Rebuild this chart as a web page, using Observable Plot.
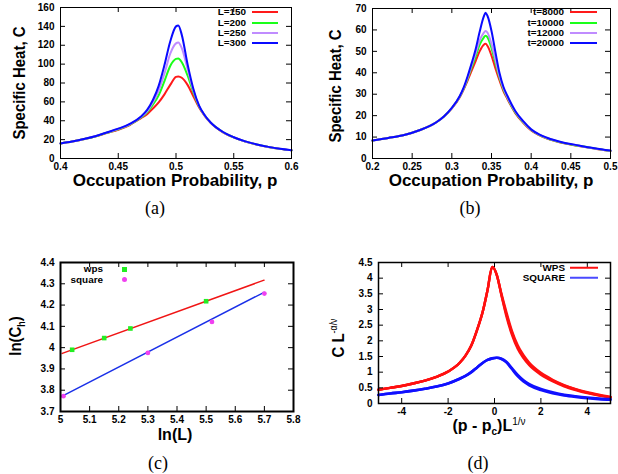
<!DOCTYPE html>
<html><head><meta charset="utf-8">
<script src="https://cdn.jsdelivr.net/npm/d3@7"></script>
<script src="https://cdn.jsdelivr.net/npm/@observablehq/plot@0.6"></script>
<style>
body{margin:0;background:#fff;}
#fig{position:relative;width:618px;height:474px;overflow:hidden;font-family:"Liberation Sans",Arial,sans-serif;color:#000;}
.panel{position:absolute;}
.lab{position:absolute;font-weight:bold;white-space:nowrap;line-height:1;}
.xl{transform:translate(-50%,-50%);}
.yl{transform:translate(-50%,-50%) rotate(-90deg) scaleX(0.88);}
.cap{position:absolute;font-family:"Liberation Serif","DejaVu Serif",serif;font-size:18px;transform:translate(-50%,-50%);white-space:nowrap;}
.lg{position:absolute;font-size:9px;font-weight:bold;line-height:1;white-space:nowrap;transform:translate(-100%,-50%) scaleX(1.1);transform-origin:right center;}
.ls{position:absolute;height:2px;transform:translateY(-50%);}
.sup{font-size:10px;font-weight:normal;vertical-align:super;}
.sub{font-size:10px;vertical-align:sub;}
</style></head>
<body><div id="fig"></div>
<script>
// ---------- Panel (a): specific heat vs p for several L ----------
const pA = [0.40,0.41,0.42,0.43,0.44,0.45,0.46,0.47,0.475,0.48,0.485,0.49,0.495,0.50,0.502,0.505,0.51,0.515,0.52,0.525,0.53,0.54,0.55,0.56,0.57,0.58,0.59,0.60];
const cL150 = [16,18,20.5,23.3,27,30.5,35.5,43,47,53,59.5,68,78,86.5,87,85.5,78,66,54,45,37.8,28.3,22.3,17.9,14.7,12.2,10.2,8.7];
const cL200 = [16,18,20.5,23.4,27.2,31,36,43.7,49,57,67,82,98,105.5,106,102,88,70,55,45.3,38,28.4,22.4,18,14.8,12.2,10.2,8.7];
const cL250 = [16,18,20.5,23.5,27.4,31.3,36.3,44.2,50,59.5,72,90,111,122,123,117,95,72,55.5,45.4,38,28.5,22.5,18,14.8,12.3,10.3,8.8];
const cL300 = [16,18,20.6,23.6,27.6,31.6,36.7,44.8,51.5,62,77,99,124,140,141,131,100,74,56,45.6,38.2,28.6,22.5,18.1,14.9,12.3,10.3,8.8];
const namesA = ["L=150","L=200","L=250","L=300"];
const xTicksA = [0.4,0.45,0.5,0.55,0.6];
const yTicksA = [0,20,40,60,80,100,120,140,160];

// ---------- Panel (b): specific heat vs p for several t ----------
const pB = [0.20,0.22,0.24,0.26,0.28,0.29,0.30,0.31,0.315,0.32,0.325,0.33,0.335,0.34,0.3425,0.345,0.35,0.355,0.36,0.365,0.37,0.38,0.39,0.40,0.41,0.42,0.44,0.46,0.48,0.50];
const cT8000  = [8.4,9.6,11.0,13.3,16.8,19.6,23.4,28.6,32.3,36.5,41,45.5,50,53,53.5,52.5,48,42,36.5,31.5,27.8,21.2,16.7,13.1,10.9,9.3,7.2,5.8,4.6,3.5];
const cT10000 = [8.4,9.6,11.0,13.3,16.8,19.6,23.5,28.8,32.6,37.3,42.5,47.5,53,56.3,57.3,56.5,51.5,44.5,37.8,32.3,28.3,21.5,16.9,13.3,11.0,9.45,7.3,5.9,4.65,3.55];
const cT12000 = [8.4,9.6,11.0,13.3,16.8,19.6,23.5,28.9,32.8,37.8,43.5,49,55,58.5,59.5,58.7,53.5,46,38.5,32.8,28.6,21.8,17.1,13.4,11.1,9.55,7.4,6.0,4.7,3.6];
const cT20000 = [8.4,9.6,11.0,13.3,16.8,19.6,23.6,29.2,33.2,38.5,44.5,51,59,66,68,66.5,59.5,49.5,40,33.5,29.3,22.2,17.4,13.6,11.3,9.7,7.5,6.1,4.8,3.7];
const namesB = ["t=8000","t=10000","t=12000","t=20000"];
const xTicksB = [0.2,0.25,0.3,0.35,0.4,0.45,0.5];
const yTicksB = [0,10,20,30,40,50,60,70];

// ---------- Panel (c): ln(C_h) vs ln(L) ----------
const wpsX = [5.04,5.15,5.24,5.50];
const wpsY = [3.99,4.045,4.09,4.218];
const sqX = [5.01,5.30,5.52,5.70];
const sqY = [3.772,3.975,4.121,4.254];
const wpsFitX = [5.006,5.699];
const wpsFitY = [3.973,4.317];
const sqFitX = [5.006,5.699];
const sqFitY = [3.772,4.260];
const namesC = ["wps","square"];
const xTicksC = [5,5.1,5.2,5.3,5.4,5.5,5.6,5.7,5.8];
const yTicksC = [3.7,3.8,3.9,4,4.1,4.2,4.3,4.4];

// ---------- Panel (d): scaling collapse ----------
const xD = [-5,-4.5,-4,-3.5,-3,-2.5,-2,-1.5,-1.25,-1,-0.75,-0.5,-0.3,-0.1,0.1,0.3,0.5,0.75,1,1.25,1.5,2,2.5,3,3.5,4,4.5,5];
const wpsA = [0.44,0.50,0.56,0.64,0.73,0.85,1.02,1.3,1.53,1.85,2.35,2.95,3.62,4.36,4.1,3.45,2.82,2.2,1.75,1.45,1.22,0.92,0.71,0.55,0.43,0.33,0.25,0.19];
const wpsB = [0.44,0.50,0.56,0.64,0.73,0.85,1.02,1.3,1.53,1.85,2.35,2.95,3.62,4.36,4.1,3.47,2.88,2.26,1.8,1.5,1.26,0.95,0.74,0.57,0.45,0.345,0.265,0.2];
const wpsC = [0.44,0.50,0.56,0.64,0.73,0.85,1.02,1.3,1.53,1.85,2.35,2.95,3.62,4.36,4.1,3.5,2.95,2.32,1.86,1.54,1.3,0.98,0.76,0.59,0.46,0.36,0.28,0.21];
const sqA  = [0.27,0.32,0.36,0.41,0.47,0.54,0.64,0.79,0.88,1.0,1.15,1.3,1.39,1.44,1.46,1.42,1.32,1.1,0.87,0.7,0.58,0.43,0.33,0.26,0.21,0.17,0.14,0.12];
const sqB  = [0.27,0.32,0.36,0.41,0.47,0.54,0.64,0.79,0.88,1.0,1.15,1.3,1.39,1.44,1.46,1.43,1.34,1.13,0.91,0.74,0.62,0.46,0.36,0.28,0.23,0.19,0.16,0.14];
const namesD = ["WPS","SQUARE"];
const xTicksD = [-4,-2,0,2,4];
const yTicksD = [0,0.5,1,1.5,2,2.5,3,3.5,4,4.5];

// ---------- styles ----------
const colA = ["#ff1a1a","#1aff1a","#c08cff","#0a0aff"];
const colC = {wpsLine:"#f01515", sqLine:"#1a30e8", wpsPt:"#22ee22", sqPt:"#f040f0"};
const colD = {wps:"#ff1010", sq:"#1010ff"};

const fmt = d => String(d);
function panel(o) {
  const fw = o.w - o.ml - o.mr, fh = o.h - o.mt - o.mb, tl = 5;
  return Plot.plot({
    width: o.w, height: o.h,
    marginLeft: o.ml, marginRight: o.mr, marginTop: o.mt, marginBottom: o.mb,
    x: {domain: o.xd}, y: {domain: o.yd},
    style: {fontFamily: "'Liberation Sans', Arial, sans-serif", fontSize: "10px", fontWeight: "bold", background: "transparent", color: "#000"},
    marks: [
      ...o.marks,
      Plot.tickX(o.xt, {x: d => d, insetTop: fh - tl, stroke: "#000"}),
      Plot.tickX(o.xt, {x: d => d, insetBottom: fh - tl, stroke: "#000"}),
      Plot.tickY(o.yt, {y: d => d, insetRight: fw - tl, stroke: "#000"}),
      Plot.tickY(o.yt, {y: d => d, insetLeft: fw - tl, stroke: "#000"}),
      Plot.axisX(o.xt, {tickSize: 0, tickPadding: 4, tickFormat: fmt, label: null}),
      Plot.axisY(o.yt, {tickSize: 0, tickPadding: 6, tickFormat: fmt, label: null}),
      Plot.frame({stroke: "#000", strokeWidth: o.fwid})
    ]
  });
}
const curve = "monotone-x";
const rowsOf = (xs, ys) => xs.map((x, i) => ({x, y: ys[i]}));

const fig = document.getElementById("fig");
function place(svg, left, top) {
  const d = document.createElement("div");
  d.className = "panel"; d.style.left = left + "px"; d.style.top = top + "px";
  d.appendChild(svg); fig.appendChild(d);
}

// (a)
const seriesA = [cL150, cL200, cL250, cL300];
place(panel({
  w: 309, h: 200, ml: 60, mr: 18, mt: 7, mb: 42, xd: [0.4, 0.6], yd: [0, 160], xt: xTicksA, yt: yTicksA, fwid: 1,
  marks: seriesA.map((s, i) => Plot.line(rowsOf(pA, s), {x: "x", y: "y", stroke: colA[i], strokeWidth: 2, curve}))
}), 0, 0);

// (b)
const seriesB = [cT8000, cT10000, cT12000, cT20000];
place(panel({
  w: 309, h: 200, ml: 63, mr: 8, mt: 8, mb: 42, xd: [0.2, 0.5], yd: [0, 70], xt: xTicksB, yt: yTicksB, fwid: 1,
  marks: seriesB.map((s, i) => Plot.line(rowsOf(pB, s), {x: "x", y: "y", stroke: colA[i], strokeWidth: 2, curve}))
}), 309, 0);

// (c)
place(panel({
  w: 309, h: 200, ml: 60, mr: 16, mt: 25, mb: 26, xd: [5, 5.8], yd: [3.7, 4.4], xt: xTicksC, yt: yTicksC, fwid: 2,
  marks: [
    Plot.line(rowsOf(wpsFitX, wpsFitY), {x: "x", y: "y", stroke: colC.wpsLine, strokeWidth: 1.5}),
    Plot.line(rowsOf(sqFitX, sqFitY), {x: "x", y: "y", stroke: colC.sqLine, strokeWidth: 1.5}),
    Plot.dot(rowsOf(wpsX, wpsY), {x: "x", y: "y", symbol: "square", r: 2.6, fill: colC.wpsPt}),
    Plot.dot(rowsOf(sqX, sqY), {x: "x", y: "y", r: 2.4, fill: colC.sqPt})
  ]
}), 0, 237);

// (d)
place(panel({
  w: 309, h: 200, ml: 69, mr: 8, mt: 25, mb: 34, xd: [-5, 5], yd: [0, 4.5], xt: xTicksD, yt: yTicksD, fwid: 1.5,
  marks: [
    ...[wpsA, wpsB, wpsC].map(s => Plot.line(rowsOf(xD, s), {x: "x", y: "y", stroke: colD.wps, strokeWidth: 2.4, curve})),
    ...[sqA, sqB].map(s => Plot.line(rowsOf(xD, s), {x: "x", y: "y", stroke: colD.sq, strokeWidth: 2.6, curve}))
  ]
}), 309, 237);

// ---------- text: axis labels, captions, legends ----------
function el(cls, html, left, top, extra) {
  const d = document.createElement("div");
  d.className = cls; d.innerHTML = html;
  d.style.left = left + "px"; d.style.top = top + "px";
  if (extra) Object.assign(d.style, extra);
  fig.appendChild(d); return d;
}
function sample(left, right, top, color, h) {
  const d = document.createElement("div");
  d.className = "ls"; d.style.left = left + "px"; d.style.width = (right - left) + "px";
  d.style.top = top + "px"; d.style.background = color; d.style.height = (h || 2) + "px";
  fig.appendChild(d);
}

el("lab yl", "Specific Heat, C", 19, 83, {fontSize: "17px"});
el("lab xl", "Occupation Probability, p", 175, 180, {fontSize: "17px"});
el("cap", "(a)", 155, 208);
el("lab yl", "Specific Heat, C", 335, 86, {fontSize: "17px"});
el("lab xl", "Occupation Probability, p", 491, 180, {fontSize: "17px"});
el("cap", "(b)", 470, 208);
el("lab yl", "ln(C<span class='sub'>h</span>)", 17, 336, {fontSize: "17px"});
el("lab xl", "ln(L)", 175, 435, {fontSize: "16px"});
el("cap", "(c)", 158, 463);
el("lab yl", "C L<span class='sup'>-&alpha;/&nu;</span>", 338, 338, {fontSize: "17px"});
el("lab xl", "(p - p<span class='sub'>c</span>)L<span class='sup'>1/&nu;</span>", 489, 427, {fontSize: "16px"});
el("cap", "(d)", 478, 463);

const rowY = [12.4, 22.5, 32.6, 42.7];
namesA.forEach((n, i) => { el("lg", n, 246, rowY[i]); sample(252, 278, rowY[i], colA[i]); });
namesB.forEach((n, i) => { el("lg", n, 564, rowY[i]); sample(570, 597, rowY[i], colA[i]); });
el("lg", namesC[0], 103, 269.4);
el("lg", namesC[1], 103, 279.6);
const m1 = document.createElement("div");
Object.assign(m1.style, {position: "absolute", left: "121.5px", top: "266.9px", width: "5px", height: "5px", background: colC.wpsPt});
fig.appendChild(m1);
const m2 = document.createElement("div");
Object.assign(m2.style, {position: "absolute", left: "121.6px", top: "277.1px", width: "5px", height: "5px", borderRadius: "50%", background: colC.sqPt});
fig.appendChild(m2);
el("lg", namesD[0], 565, 267.5);
el("lg", namesD[1], 565, 277.7);
sample(570, 598, 267.5, colD.wps, 2.5);
sample(570, 598, 277.7, "#4a4aff", 2.5);
</script></body></html>
